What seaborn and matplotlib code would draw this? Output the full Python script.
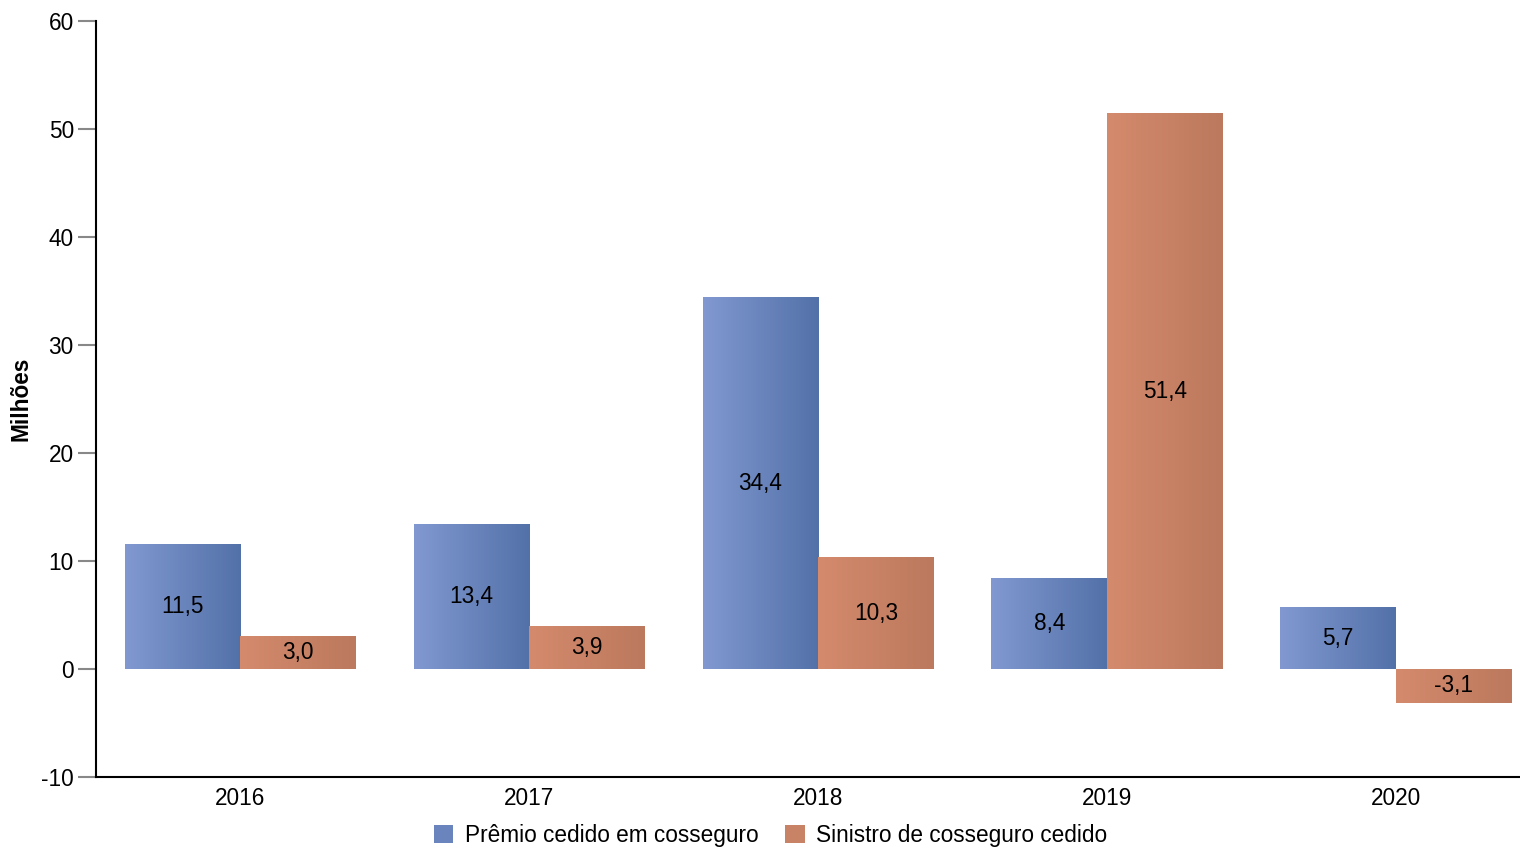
import numpy as np
import pandas as pd
import matplotlib
matplotlib.use("Agg")
import matplotlib.pyplot as plt
import seaborn as sns
from matplotlib.colors import LinearSegmentedColormap
from matplotlib.patches import Patch

years = ["2016", "2017", "2018", "2019", "2020"]
premio = [11.5, 13.4, 34.4, 8.4, 5.7]
sinistro = [3.0, 3.9, 10.3, 51.4, -3.1]
series_names = ["Prêmio cedido em cosseguro", "Sinistro de cosseguro cedido"]
yticks = [-10, 0, 10, 20, 30, 40, 50, 60]

df = pd.DataFrame({
    "ano": years * 2,
    "valor": premio + sinistro,
    "serie": [series_names[0]] * len(years) + [series_names[1]] * len(years),
})

sns.set_theme(style="white")
plt.rcParams["font.family"] = ["Liberation Sans", "DejaVu Sans"]
plt.rcParams["text.color"] = "black"
plt.rcParams["axes.labelcolor"] = "black"
plt.rcParams["xtick.labelcolor"] = "black"
plt.rcParams["ytick.labelcolor"] = "black"

FS = 16.3

fig = plt.figure(figsize=(15.2, 8.48), dpi=100)
ax = fig.add_axes([0.0632, 0.0837, 0.9368, 0.8915])

grad_colors = {
    series_names[0]: ("#8199D0", "#5371A9"),
    series_names[1]: ("#D48A6D", "#BC795D"),
}
mid_colors = {series_names[0]: "#6A85BD", series_names[1]: "#C88265"}

sns.barplot(data=df, x="ano", y="valor", hue="serie", order=years,
            hue_order=series_names, palette=mid_colors, width=0.8,
            gap=0, saturation=1, legend=False, ax=ax, errorbar=None)

grad = np.linspace(0, 1, 256).reshape(1, -1)
for container, name in zip(ax.containers, series_names):
    cmap = LinearSegmentedColormap.from_list(name, grad_colors[name])
    for bar, val in zip(container, df[df.serie == name]["valor"]):
        x0, y0 = bar.get_x(), bar.get_y()
        w, h = bar.get_width(), bar.get_height()
        bar.set_facecolor("none")
        bar.set_edgecolor("none")
        ax.imshow(grad, cmap=cmap, aspect="auto", interpolation="bicubic",
                  extent=[x0, x0 + w, min(y0, y0 + h), max(y0, y0 + h)],
                  zorder=2)
        ax.text(x0 + w / 2, y0 + h / 2, f"{val:.1f}".replace(".", ","),
                ha="center", va="center", fontsize=FS, color="black", zorder=3)

ax.set_xlim(-0.5, 4.43)
ax.set_ylim(-10, 60)
ax.set_yticks(yticks)
ax.set_yticklabels([str(t) for t in yticks], fontsize=FS)
ax.tick_params(axis="y", which="major", length=13, width=1.5, color="#888888",
               pad=3, left=True)
ax.tick_params(axis="x", length=0, labelsize=FS, pad=7)
ax.set_xlabel("")
ax.set_ylabel("Milhões", fontsize=FS, fontweight="bold", labelpad=6)

for s in ["top", "right"]:
    ax.spines[s].set_visible(False)
for s in ["left", "bottom"]:
    ax.spines[s].set_color("black")
    ax.spines[s].set_linewidth(1.5)

handles = [Patch(facecolor=mid_colors[n], edgecolor="none", label=n) for n in series_names]
fig.legend(handles=handles, loc="center", bbox_to_anchor=(0.507, 0.015),
           ncol=2, frameon=False, fontsize=FS, handlelength=0.85, handleheight=0.85,
           handletextpad=0.5, columnspacing=1.2, borderaxespad=0)

fig.savefig("out.png", dpi=100)
